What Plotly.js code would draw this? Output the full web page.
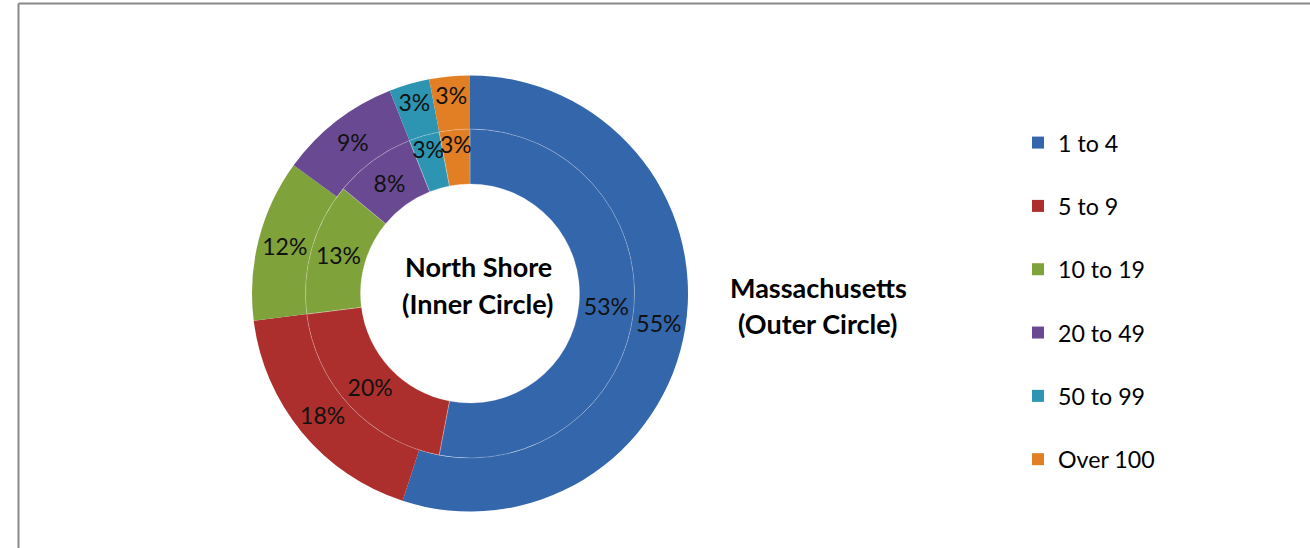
<!DOCTYPE html>
<html>
<head>
<meta charset="utf-8">
<script src="https://cdn.plot.ly/plotly-3.0.1.min.js"></script>
<style>html,body{margin:0;padding:0;background:#fff;}#chart{width:1310px;height:548px;}</style>
</head>
<body>
<div id="chart"></div>
<script>
// ---- data ----
var categories = ["1 to 4", "5 to 9", "10 to 19", "20 to 49", "50 to 99", "Over 100"];
var massachusettsPct = [55, 18, 12, 9, 3, 3];   // outer circle
var northShorePct = [53, 20, 13, 8, 3, 3];      // inner circle
var sliceColors = ["#3466AC", "#AC2F2D", "#80A23B", "#694A92", "#2D95B2", "#E27E23"];
var innerTitle = ["North Shore", "(Inner Circle)"];
var outerTitle = ["Massachusetts", "(Outer Circle)"];

var FONT = "Lato, 'Open Sans', sans-serif";
var W = 1310, H = 548;
var cx = 470, cy = 293.5;
var rOuter = 218, rMid = 164.5, rHole = 109.5;

function domainFor(r) {
  return {
    x: [(cx - r) / W, (cx + r) / W],
    y: [1 - (cy + r) / H, 1 - (cy - r) / H]
  };
}

// legend labels: extra blank line gives the wide spacing of the original legend
var legendLabels = categories.map(function (c) { return c + "<br> "; });

var outer = {
  type: "pie",
  labels: legendLabels,
  values: massachusettsPct,
  text: massachusettsPct.map(function (v) { return v + "%"; }),
  textinfo: "text",
  textposition: "inside",
  insidetextorientation: "horizontal",
  sort: false,
  direction: "clockwise",
  rotation: 0,
  hole: rMid / rOuter,
  domain: domainFor(rOuter),
  marker: { colors: sliceColors, line: { color: "rgba(255,255,255,0.5)", width: 0 } },
  textfont: { family: FONT, size: 23, color: "#111" },
  hovertemplate: "Massachusetts<br>%{label}: %{value}%<extra></extra>",
  showlegend: true,
  name: "Massachusetts"
};

var inner = {
  type: "pie",
  labels: legendLabels,
  values: northShorePct,
  text: northShorePct.map(function (v) { return v + "%"; }),
  textinfo: "text",
  textposition: "inside",
  insidetextorientation: "horizontal",
  sort: false,
  direction: "clockwise",
  rotation: 0,
  hole: rHole / rMid,
  domain: domainFor(rMid),
  marker: { colors: sliceColors, line: { color: "rgba(255,255,255,0.3)", width: 0.8 } },
  textfont: { family: FONT, size: 23, color: "#111" },
  hovertemplate: "North Shore<br>%{label}: %{value}%<extra></extra>",
  showlegend: false,
  name: "North Shore"
};

var annotations = [];
innerTitle.forEach(function (t, i) {
  annotations.push({
    xref: "paper", yref: "paper", x: 478 / W, y: 1 - (266 + i * 37) / H,
    xanchor: "center", yanchor: "middle", showarrow: false,
    text: "<b>" + t + "</b>", font: { family: FONT, size: 27, color: "#000" }
  });
});
outerTitle.forEach(function (t, i) {
  annotations.push({
    xref: "paper", yref: "paper", x: 818 / W, y: 1 - (287 + i * 36) / H,
    xanchor: "center", yanchor: "middle", showarrow: false,
    text: "<b>" + t + "</b>", font: { family: FONT, size: 27, color: "#000" }
  });
});

var layout = {
  width: W, height: H,
  margin: { l: 0, r: 0, t: 0, b: 0 },
  paper_bgcolor: "#ffffff",
  showlegend: true,
  uniformtext: { mode: "show", minsize: 23 },
  legend: {
    x: 1018 / W, y: 1 - 121 / H, xanchor: "left", yanchor: "top",
    valign: "top",
    font: { family: FONT, size: 23.2, color: "#000" },
    bgcolor: "rgba(0,0,0,0)", borderwidth: 0,
    traceorder: "normal"
  },
  annotations: annotations,
  shapes: [
    { type: "line", xref: "paper", yref: "paper", x0: 18.5 / W, x1: 1, y0: 1 - 3.5 / H, y1: 1 - 3.5 / H,
      line: { color: "#8a8a8a", width: 2 } },
    { type: "line", xref: "paper", yref: "paper", x0: 18.5 / W, x1: 18.5 / W, y0: 0, y1: 1 - 3.5 / H,
      line: { color: "#8a8a8a", width: 2 } }
  ]
};

Plotly.newPlot("chart", [outer, inner], layout, { displayModeBar: false });
</script>
</body>
</html>
